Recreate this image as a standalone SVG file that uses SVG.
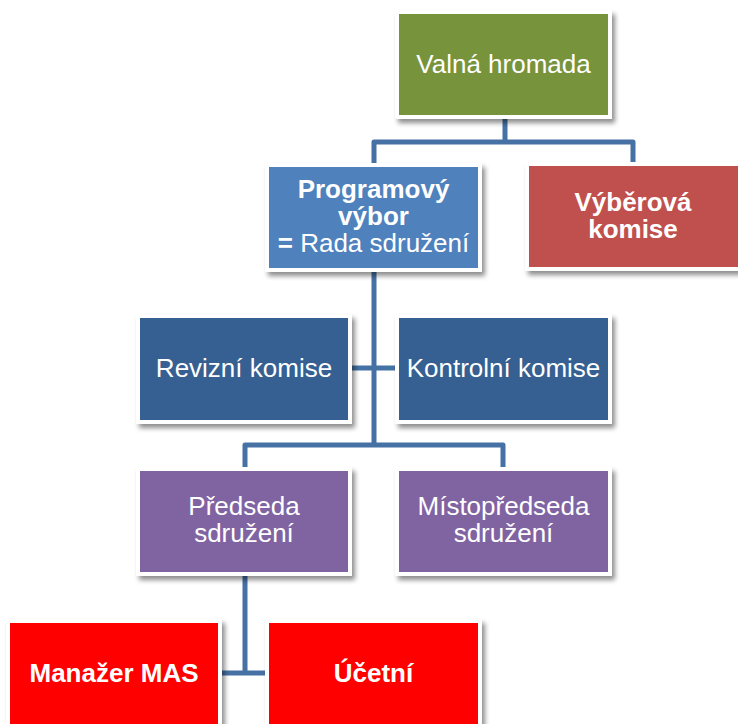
<svg xmlns="http://www.w3.org/2000/svg" width="738" height="724" viewBox="0 0 738 724">
<defs>
<filter id="sh" x="-10%" y="-10%" width="130%" height="130%">
<feGaussianBlur in="SourceAlpha" stdDeviation="2.5"/>
<feOffset dx="3" dy="4" result="b"/>
<feComponentTransfer><feFuncA type="linear" slope="0.45"/></feComponentTransfer>
<feMerge><feMergeNode/><feMergeNode in="SourceGraphic"/></feMerge>
</filter>
</defs>
<style>
.frame{fill:#ffffff;filter:url(#sh)}
.t{font-family:"Liberation Sans",Arial,sans-serif;font-size:26px;fill:#ffffff;text-anchor:middle}
.b{font-weight:bold}
.c{fill:none;stroke:#4571A5;stroke-width:5;stroke-linejoin:round}
</style>
<rect width="738" height="724" fill="#ffffff"/>
<g id="connectors">
<path class="c" d="M505 117 V142 M374 167 V142 H633 V167"/>
<path class="c" d="M374 268 V445 M348 368 H399 M245 471 V445 H503 V471"/>
<path class="c" d="M245 572 V673 M218 673 H269"/>
</g>
<g id="valna">
<rect class="frame" x="395" y="10" width="217" height="109"/>
<rect x="399" y="14" width="209" height="101" fill="#77933C"/>
<text class="t" x="503.5" y="73">Valná hromada</text>
</g>
<g id="programovy">
<rect class="frame" x="265" y="163" width="217" height="109"/>
<rect x="269" y="167" width="209" height="101" fill="#4F81BD"/>
<text class="t" x="373.5" y="198"><tspan class="b">Programový</tspan></text>
<text class="t b" x="373.5" y="225">výbor</text>
<text class="t" x="373.5" y="252"><tspan class="b">=</tspan> Rada sdružení</text>
</g>
<g id="vyberova">
<rect class="frame" x="525" y="162" width="217" height="109"/>
<rect x="529" y="166" width="209" height="101" fill="#C0504D"/>
<text class="t b" x="633" y="211">Výběrová</text>
<text class="t b" x="633" y="238">komise</text>
</g>
<g id="revizni">
<rect class="frame" x="136" y="314" width="216" height="110"/>
<rect x="140" y="318" width="208" height="102" fill="#366092"/>
<text class="t" x="244" y="377">Revizní komise</text>
</g>
<g id="kontrolni">
<rect class="frame" x="395" y="314" width="217" height="110"/>
<rect x="399" y="318" width="209" height="102" fill="#366092"/>
<text class="t" x="503.5" y="377">Kontrolní komise</text>
</g>
<g id="predseda">
<rect class="frame" x="136" y="467" width="216" height="109"/>
<rect x="140" y="471" width="208" height="101" fill="#8064A2"/>
<text class="t" x="244" y="515">Předseda</text>
<text class="t" x="244" y="542">sdružení</text>
</g>
<g id="mistopredseda">
<rect class="frame" x="395" y="467" width="217" height="109"/>
<rect x="399" y="471" width="209" height="101" fill="#8064A2"/>
<text class="t" x="503.5" y="515">Místopředseda</text>
<text class="t" x="503.5" y="542">sdružení</text>
</g>
<g id="manazer">
<rect class="frame" x="6" y="619" width="216" height="120"/>
<rect x="10" y="623" width="208" height="110" fill="#FF0000"/>
<text class="t b" x="114" y="682">Manažer MAS</text>
</g>
<g id="ucetni">
<rect class="frame" x="265" y="619" width="217" height="120"/>
<rect x="269" y="623" width="209" height="110" fill="#FF0000"/>
<text class="t b" x="373.5" y="682">Účetní</text>
</g>
</svg>
